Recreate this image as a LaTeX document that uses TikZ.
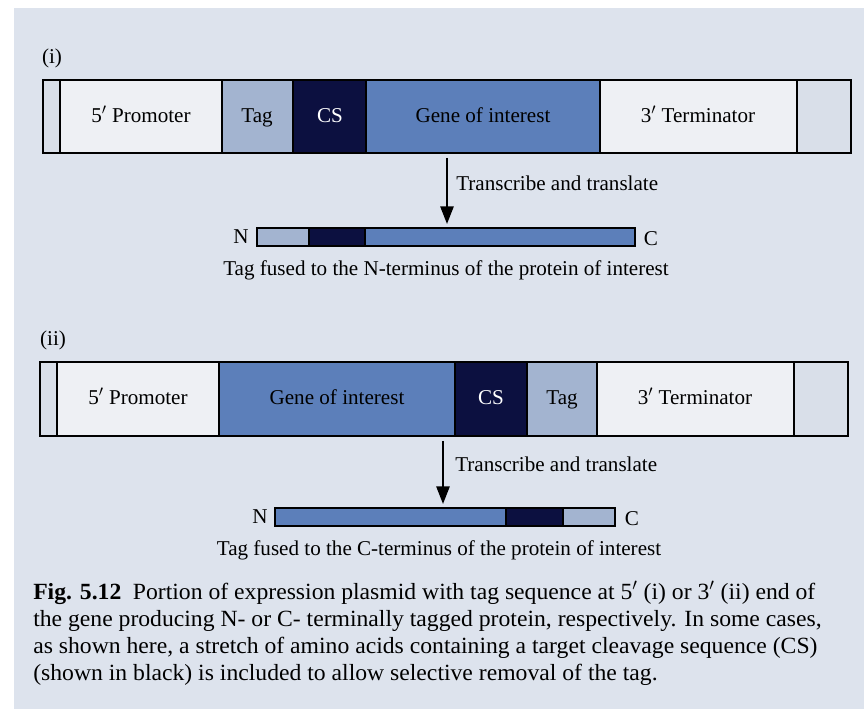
\documentclass[tikz,border=0pt]{standalone}
\usepackage{fontspec}
\setmainfont{Liberation Serif}
\newfontfamily\capfont[FakeStretch=1.02]{Liberation Serif}
\usetikzlibrary{positioning, arrows.meta}
\definecolor{pagebg}{RGB}{221,227,237}
\definecolor{paleseg}{RGB}{238,240,244}
\definecolor{endseg}{RGB}{217,223,233}
\definecolor{tagblue}{RGB}{163,180,208}
\definecolor{csnavy}{RGB}{12,16,64}
\definecolor{geneblue}{RGB}{92,127,186}

\begin{document}
\begin{tikzpicture}[x=0.025cm, y=-0.025cm,
    seg/.style={draw=black, line width=0.9pt},
    lbl/.style={font=\fontsize{15}{18}\selectfont, text height=11pt, text depth=3.5pt},
    flow/.style={-{Triangle[length=4.4mm, width=3.3mm]}, line width=1.4pt}]
        % Page
        \useasboundingbox (0,0) rectangle (864,709);
        \fill[white] (0,0) rectangle (864,709);
        \fill[pagebg] (14,8) rectangle (864,709);

        % (i) tag at the 5' end
        \node[lbl] (lab1) at (52,58) {(i)};
        \filldraw[seg, fill=endseg] (43,80) rectangle (60,153);
        \filldraw[seg, fill=paleseg] (60,80) rectangle (222,153);
        \filldraw[seg, fill=tagblue] (222,80) rectangle (293,153);
        \filldraw[seg, fill=csnavy] (293,80) rectangle (366,153);
        \filldraw[seg, fill=geneblue] (366,80) rectangle (600,153);
        \filldraw[seg, fill=paleseg] (600,80) rectangle (797,153);
        \filldraw[seg, fill=endseg] (797,80) rectangle (851,153);
        \node[lbl] (prom1) at (141,117) {5$'$ Promoter};
        \node[lbl] (tag1) at (257,117) {Tag};
        \node[lbl, text=white] (cs1) at (330,117) {CS};
        \node[lbl] (gene1) at (483,117) {Gene of interest};
        \node[lbl] (term1) at (698,117) {3$'$ Terminator};

        \coordinate (dna1) at (447,158);
        \coordinate (prot1) at (447,224);
        \draw[flow] (dna1) -- (prot1);
        \node[lbl, anchor=west, inner sep=0pt] (tt1) at (456,185) {Transcribe and translate};

        % N-terminal fusion
        \filldraw[seg, fill=tagblue] (257,228) rectangle (309,246);
        \filldraw[seg, fill=csnavy] (309,228) rectangle (365,246);
        \filldraw[seg, fill=geneblue] (365,228) rectangle (635,246);
        \node[lbl] (nterm1) at (241,238) {N};
        \node[lbl] (cterm1) at (651,240) {C};
        \node[lbl] (fus1) at (446,270) {Tag fused to the N-terminus of the protein of interest};

        % (ii) tag at the 3' end
        \node[lbl] (lab2) at (53,340) {(ii)};
        \filldraw[seg, fill=endseg] (40,362) rectangle (57,436);
        \filldraw[seg, fill=paleseg] (57,362) rectangle (219,436);
        \filldraw[seg, fill=geneblue] (219,362) rectangle (455,436);
        \filldraw[seg, fill=csnavy] (455,362) rectangle (527,436);
        \filldraw[seg, fill=tagblue] (527,362) rectangle (597,436);
        \filldraw[seg, fill=paleseg] (597,362) rectangle (794,436);
        \filldraw[seg, fill=endseg] (794,362) rectangle (848,436);
        \node[lbl] (prom2) at (138,399) {5$'$ Promoter};
        \node[lbl] (gene2) at (337,399) {Gene of interest};
        \node[lbl, text=white] (cs2) at (491,399) {CS};
        \node[lbl] (tag2) at (562,399) {Tag};
        \node[lbl] (term2) at (695,399) {3$'$ Terminator};

        \coordinate (dna2) at (443,441);
        \coordinate (prot2) at (443,504);
        \draw[flow] (dna2) -- (prot2);
        \node[lbl, anchor=west, inner sep=0pt] (tt2) at (455,466) {Transcribe and translate};

        % C-terminal fusion
        \filldraw[seg, fill=geneblue] (275,508) rectangle (506,526);
        \filldraw[seg, fill=csnavy] (506,508) rectangle (563,526);
        \filldraw[seg, fill=tagblue] (563,508) rectangle (615,526);
        \node[lbl] (nterm2) at (260,518) {N};
        \node[lbl] (cterm2) at (632,520) {C};
        \node[lbl] (fus2) at (439,550) {Tag fused to the C-terminus of the protein of interest};

        % Caption (base = last line)
        \node[anchor=base west, inner sep=0pt, align=left,
              font=\capfont\fontsize{16.5}{19.2}\selectfont] (caption) at (33,680)
            {\textbf{Fig. 5.12}\enspace Portion of expression plasmid with tag sequence at 5$'$ (i) or 3$'$ (ii) end of\\
             the gene producing N- or C- terminally tagged protein, respectively. In some cases,\\
             as shown here, a stretch of amino acids containing a target cleavage sequence (CS)\\
             (shown in black) is included to allow selective removal of the tag.};
    \end{tikzpicture}
\end{document}
